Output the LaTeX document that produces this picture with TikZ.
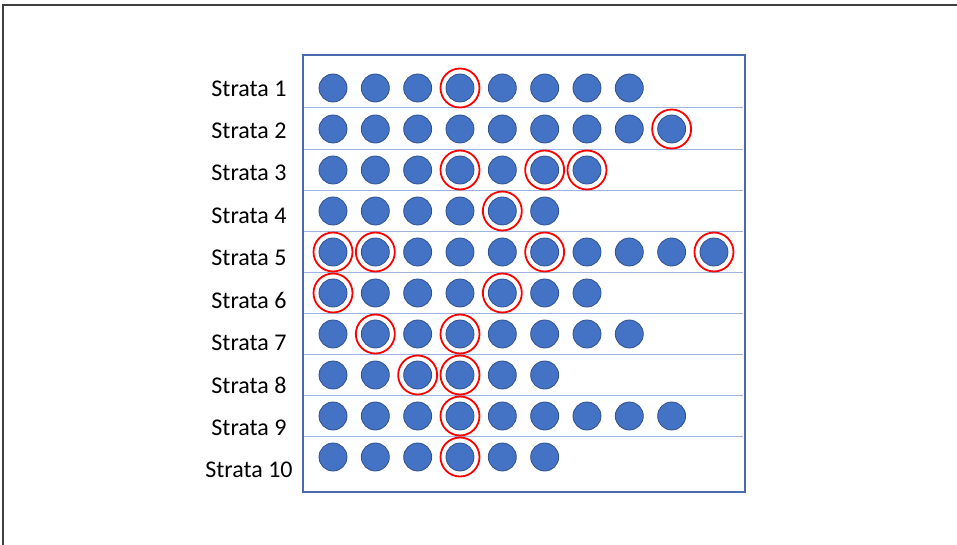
\documentclass[tikz,border=0pt]{standalone}
\usepackage{fontspec}
\setmainfont{Carlito}
\usetikzlibrary{positioning}
\definecolor{dotblue}{HTML}{4472C4}
\definecolor{dotedge}{HTML}{2F528F}
\definecolor{boxblue}{HTML}{4A6AAE}
\definecolor{rowline}{HTML}{9DB3E0}
\tikzset{
  dot/.style={circle,fill=dotblue,draw=dotedge,line width=0.8pt,minimum size=28pt,inner sep=0pt},
  pick/.style={circle,draw=red,line width=1.8pt,minimum size=39pt,inner sep=0pt},
  stratum/.style={font=\fontsize{24}{24}\selectfont,inner sep=0pt}
}

\begin{document}
\begin{tikzpicture}[x=1pt,y=-1pt]
  \useasboundingbox (0,0) rectangle (957,545);
  \draw[line width=1.3pt,black!75] (3,545) -- (3,5) -- (957,5);
  % row lines first, the frame goes over their ends
  \foreach \m in {1,...,9}
    \draw[rowline,line width=1pt] (303,{108+41.1*(\m-1)}) -- (743,{108+41.1*(\m-1)});
  \node[draw=boxblue,line width=2pt,minimum width=442pt,minimum height=437pt,anchor=north west] (box) at (302,54) {};
  % row / number of units / sampled units
  \foreach \n/\k/\picks in {1/8/{4},2/9/{9},3/7/{4,6,7},4/6/{5},5/10/{1,2,6,10},
                            6/7/{1,5},7/8/{2,4},8/6/{3,4},9/9/{4},10/6/{4}} {
    \node[stratum] (s\n) at (249,{88.5+42.4*(\n-1)}) {Strata \n};
    \foreach \j in {1,...,\k}
      \node[dot] (c\n-\j) at ({333+42.33*(\j-1)},{88+41*(\n-1)}) {};
    \foreach \j in \picks
      \node[pick] (p\n-\j) at (c\n-\j) {};
  }
\end{tikzpicture}
\end{document}
